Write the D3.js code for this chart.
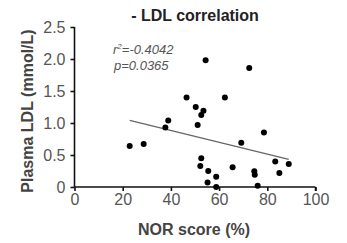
<!DOCTYPE html>
<html>
<head>
<meta charset="utf-8">
<script src="https://cdn.jsdelivr.net/npm/d3@7"></script>
<style>
body { margin: 0; background: #fff; }
text { font-family: "Liberation Sans", Arial, sans-serif; }
</style>
</head>
<body>
<svg id="chart" width="347" height="243"></svg>
<script>
// NOR score (%) vs plasma LDL (mmol/L)
var norScore = [22.9, 28.7, 37.7, 38.9, 46.5, 50.3, 51.1, 52.6, 53.5, 54.4, 52.6, 52.2, 55.5, 55.2,
                58.8, 58.8, 62.4, 65.6, 69.2, 72.5, 74.6, 74.8, 76.0, 78.6, 83.3, 85.0, 88.9];
var ldl = [0.64, 0.67, 0.93, 1.04, 1.40, 1.25, 0.97, 1.125, 1.19, 1.98, 0.45, 0.33, 0.25, 0.07,
           0.16, 0.0, 1.40, 0.31, 0.69, 1.86, 0.245, 0.19, 0.02, 0.85, 0.40, 0.22, 0.36];
var fitX = [22.9, 88.9];
var fitY = [1.04, 0.43];
var xTicks = [0, 20, 40, 60, 80, 100];
var yTicks = [0, 0.5, 1.0, 1.5, 2.0, 2.5];
var yTickLabels = ["0", "0.5", "1.0", "1.5", "2.0", "2.5"];

var svg = d3.select("#chart");

var x = d3.scaleLinear().domain([0, 100]).range([74.5, 315.5]),
    y = d3.scaleLinear().domain([0, 2.5]).range([187, 27]);

var data = norScore.map(function(v, i) { return {x: v, y: ldl[i]}; });

svg.append("text")
  .attr("x", 195).attr("y", 21)
  .attr("text-anchor", "middle")
  .attr("font-size", 16).attr("font-weight", "bold")
  .attr("fill", "#222")
  .text("- LDL correlation");

var xAxis = svg.append("g")
  .attr("transform", "translate(0," + y(0) + ")")
  .call(d3.axisBottom(x).tickValues(xTicks).tickSize(4).tickPadding(3).tickFormat(d3.format("d")));

var yAxis = svg.append("g")
  .attr("transform", "translate(" + x(0) + ",0)")
  .call(d3.axisLeft(y).tickValues(yTicks).tickSize(4).tickPadding(5)
    .tickFormat(function(d, i) { return yTickLabels[i]; }));

[xAxis, yAxis].forEach(function(a) {
  a.select(".domain").attr("stroke", "#111").attr("stroke-width", 1.6);
  a.selectAll(".tick line").attr("stroke", "#111").attr("stroke-width", 1.6);
  a.selectAll(".tick text").attr("fill", "#555").attr("font-size", 16)
    .attr("font-family", "Liberation Sans, Arial, sans-serif");
});
xAxis.select(".domain").attr("d", "M" + x(0) + ",0H" + x(100) + "M" + x(100) + ",0V4");
yAxis.select(".domain").attr("d", "M0," + y(0) + "V" + y(2.5));

svg.append("line")
  .attr("x1", x(fitX[0])).attr("y1", y(fitY[0]))
  .attr("x2", x(fitX[1])).attr("y2", y(fitY[1]))
  .attr("stroke", "#666").attr("stroke-width", 1.3);

svg.selectAll(".dot")
  .data(data)
  .enter().append("circle")
  .attr("class", "dot")
  .attr("cx", function(d) { return x(d.x); })
  .attr("cy", function(d) { return y(d.y); })
  .attr("r", 3)
  .attr("fill", "#000");

svg.append("text")
  .attr("x", 113).attr("y", 54)
  .attr("font-size", 13).attr("font-style", "italic").attr("fill", "#555")
  .html("r<tspan font-size='8' dy='-5'>2</tspan><tspan dy='5'>=-0.4042</tspan>");

svg.append("text")
  .attr("x", 114).attr("y", 70)
  .attr("font-size", 13).attr("font-style", "italic").attr("fill", "#555")
  .text("p=0.0365");

svg.append("text")
  .attr("transform", "translate(33,111) rotate(-90)")
  .attr("text-anchor", "middle")
  .attr("font-size", 16).attr("font-weight", "bold").attr("fill", "#444")
  .text("Plasma LDL (mmol/L)");

svg.append("text")
  .attr("x", 194).attr("y", 235)
  .attr("text-anchor", "middle")
  .attr("font-size", 16).attr("font-weight", "bold").attr("fill", "#444")
  .text("NOR score (%)");
</script>
</body>
</html>
